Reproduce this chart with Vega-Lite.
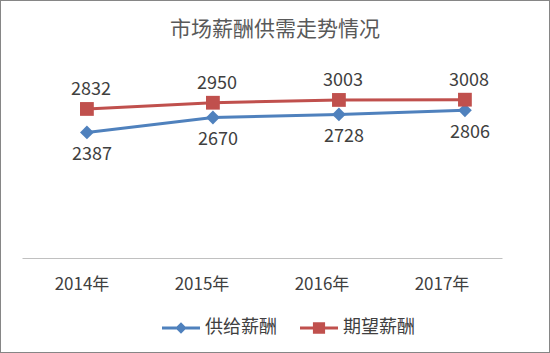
{
  "$schema": "https://vega.github.io/schema/vega-lite/v6.json",
  "width": 550,
  "height": 353,
  "autosize": {"type": "fit", "contains": "padding"},
  "padding": 0,
  "background": "white",
  "config": {
    "view": {"stroke": "#868686", "strokeWidth": 2},
    "font": "Noto Sans CJK SC"
  },
  "title": {
    "text": "市场薪酬供需走势情况",
    "fontSize": 21,
    "fontWeight": "normal",
    "color": "#595959",
    "font": "Noto Sans CJK SC",
    "anchor": "middle",
    "offset": -40
  },
  "data": {
    "values": [
      {"year": "2014年", "series": "供给薪酬", "value": 2387},
      {"year": "2015年", "series": "供给薪酬", "value": 2670},
      {"year": "2016年", "series": "供给薪酬", "value": 2728},
      {"year": "2017年", "series": "供给薪酬", "value": 2806},
      {"year": "2014年", "series": "期望薪酬", "value": 2832},
      {"year": "2015年", "series": "期望薪酬", "value": 2950},
      {"year": "2016年", "series": "期望薪酬", "value": 3003},
      {"year": "2017年", "series": "期望薪酬", "value": 3008}
    ]
  },
  "layer": [
    {
      "mark": {"type": "point", "opacity": 0},
      "encoding": {
        "x": {
          "field": "year",
          "type": "nominal",
          "sort": null,
          "scale": {"type": "band", "paddingInner": 0, "paddingOuter": 0, "range": [22, 502]},
          "axis": {
            "orient": "bottom",
            "offset": -95,
            "title": null,
            "domain": true,
            "domainColor": "#c0c0c0",
            "domainWidth": 1,
            "ticks": false,
            "grid": false,
            "labelAngle": 0,
            "labelFontSize": 17,
            "labelFont": "Noto Sans CJK SC",
            "labelColor": "#404040",
            "labelPadding": 18
          }
        }
      }
    },
    {
      "encoding": {
        "x": {
          "field": "year",
          "type": "nominal",
          "sort": null,
          "scale": {"type": "band", "paddingInner": 0, "paddingOuter": 0.1825, "align": 0.52},
          "axis": null
        },
        "y": {
          "field": "value",
          "type": "quantitative",
          "scale": {"domain": [-1800, 4900], "nice": false, "zero": false},
          "axis": null
        },
        "color": {
          "field": "series",
          "type": "nominal",
          "scale": {"domain": ["供给薪酬", "期望薪酬"], "range": ["#4F81BD", "#C0504D"]},
          "legend": {
            "title": null,
            "orient": "none",
            "legendX": 162,
            "legendY": 309,
            "direction": "horizontal",
            "padding": 0,
            "symbolSize": 1444,
            "symbolStrokeWidth": 0,
            "labelFontSize": 18,
            "labelFont": "Noto Sans CJK SC",
            "labelColor": "#404040",
            "labelOffset": 5,
            "columnPadding": 23,
            "encode": {
              "symbols": {
                "update": {
                  "shape": {"signal": "datum.value === '供给薪酬' ? 'M-1,-0.08H1V0.08H-1Z M0,-0.3L0.3,0L0,0.3L-0.3,0Z' : 'M-1,-0.08H1V0.08H-1Z M-0.32,-0.3H0.32V0.3H-0.32Z'"},
                  "fill": {"signal": "datum.value === '供给薪酬' ? '#4F81BD' : '#C0504D'"},
                  "strokeWidth": {"value": 0},
                  "opacity": {"value": 1}
                }
              }
            }
          }
        }
      },
      "layer": [
        {"mark": {"type": "line", "strokeWidth": 3}},
        {
          "transform": [{"filter": "datum.series === '供给薪酬'"}],
          "mark": {"type": "point", "filled": true, "opacity": 1, "shape": "diamond", "size": 190}
        },
        {
          "transform": [{"filter": "datum.series === '期望薪酬'"}],
          "mark": {"type": "point", "filled": true, "opacity": 1, "shape": "square", "size": 190}
        },
        {
          "transform": [{"filter": "datum.series === '期望薪酬'"}],
          "mark": {"type": "text", "fontSize": 18, "dy": -19, "dx": 4, "font": "Noto Sans CJK SC"},
          "encoding": {"text": {"field": "value", "type": "quantitative"}, "color": {"value": "#404040"}}
        },
        {
          "transform": [{"filter": "datum.series === '供给薪酬'"}],
          "mark": {"type": "text", "fontSize": 18, "dy": 23, "dx": 5, "font": "Noto Sans CJK SC"},
          "encoding": {"text": {"field": "value", "type": "quantitative"}, "color": {"value": "#404040"}}
        }
      ]
    }
  ],
  "resolve": {"scale": {"x": "independent"}, "axis": {"x": "independent"}}
}
